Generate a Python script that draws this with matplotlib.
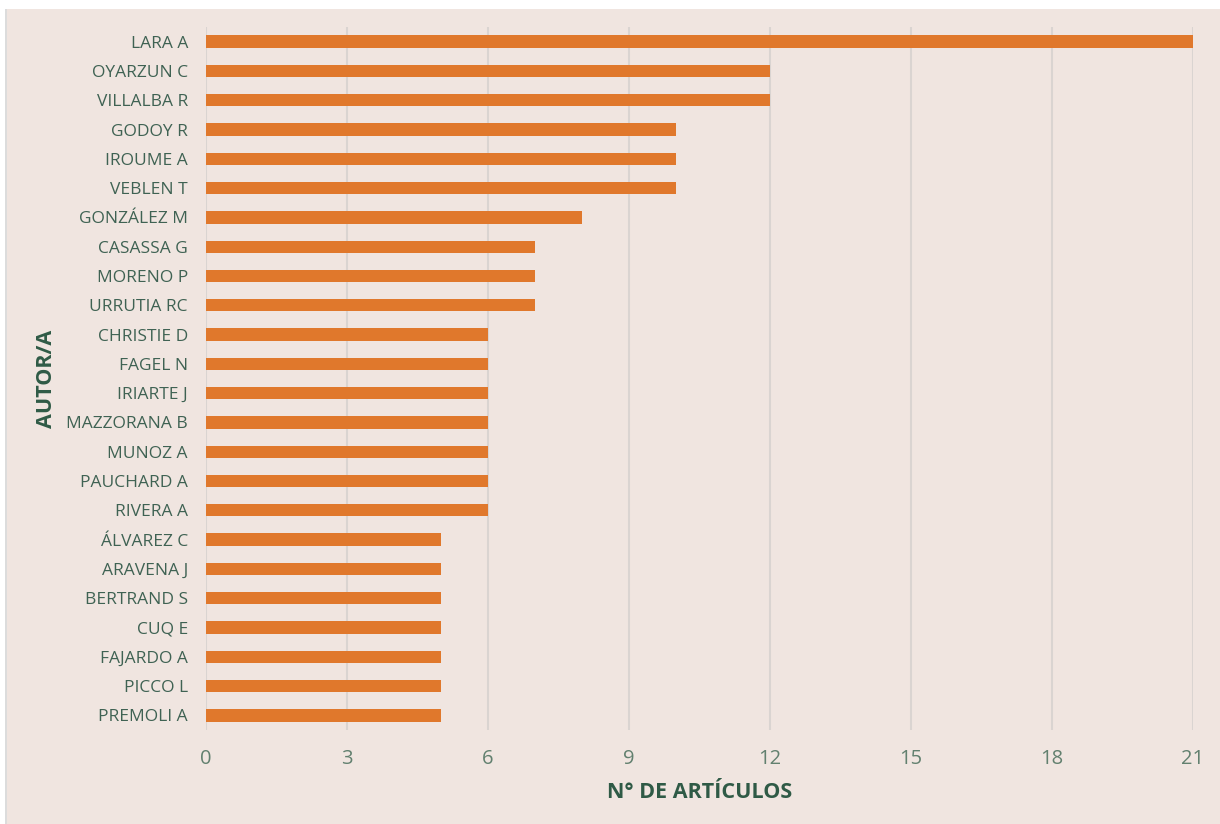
import matplotlib
matplotlib.use("Agg")
import matplotlib.pyplot as plt
from matplotlib.patches import Rectangle

autores = ["LARA A", "OYARZUN C", "VILLALBA R", "GODOY R", "IROUME A", "VEBLEN T",
           "GONZÁLEZ M", "CASASSA G", "MORENO P", "URRUTIA RC", "CHRISTIE D", "FAGEL N",
           "IRIARTE J", "MAZZORANA B", "MUNOZ A", "PAUCHARD A", "RIVERA A", "ÁLVAREZ C",
           "ARAVENA J", "BERTRAND S", "CUQ E", "FAJARDO A", "PICCO L", "PREMOLI A"]
articulos = [21, 12, 12, 10, 10, 10, 8, 7, 7, 7, 6, 6, 6, 6, 6, 6, 6,
             5, 5, 5, 5, 5, 5, 5]
ticks_x = [0, 3, 6, 9, 12, 15, 18, 21]

BG = "#F0E5E0"
BAR = "#E0782C"
LABEL = "#3F6253"
TICK = "#62806F"
TITLE = "#2F5A46"
GRID = "#DAD4D1"

plt.rcParams["font.family"] = ["Open Sans", "DejaVu Sans"]

fig = plt.figure(figsize=(12.2, 8.24), dpi=100)
fig.patch.set_facecolor("white")
fig.patches.append(Rectangle((6 / 1220, 0), 1 - 6 / 1220, 1 - 9 / 824,
                             transform=fig.transFigure, facecolor=BG,
                             edgecolor="none", zorder=-10))
fig.patches.append(Rectangle((5 / 1220, 0), 1.5 / 1220, 1 - 9 / 824,
                             transform=fig.transFigure, facecolor="#DCDCDC",
                             edgecolor="none", zorder=-9))

ax = fig.add_axes([206 / 1220, 1 - 730 / 824, (1193 - 206) / 1220, (730 - 27) / 824])
ax.set_facecolor("none")

y = list(range(len(autores)))
ax.barh(y, articulos, height=0.42, color=BAR, zorder=3)

ax.set_ylim(len(autores) - 0.5, -0.5)
ax.set_xlim(0, 21)
ax.set_xticks(ticks_x)
ax.set_yticks(y)
ax.set_yticklabels(autores)

ax.grid(axis="x", color=GRID, linewidth=1.5, zorder=0)
ax.set_axisbelow(True)
for s in ax.spines.values():
    s.set_visible(False)

ax.tick_params(axis="y", length=0, pad=13, labelsize=12.5, labelcolor=LABEL)
ax.tick_params(axis="x", length=0, pad=14, labelsize=14.5, labelcolor=TICK)

fig.text(700 / 1220, 1 - 793 / 824, "N° DE ARTÍCULOS", ha="center", va="center",
         fontsize=15.5, fontweight="bold", color=TITLE)
fig.text(47 / 1220, 1 - 379 / 824, "AUTOR/A", ha="center", va="center",
         rotation=90, fontsize=15.5, fontweight="bold", color=TITLE)

fig.savefig("out.png", dpi=100, facecolor=fig.get_facecolor())
